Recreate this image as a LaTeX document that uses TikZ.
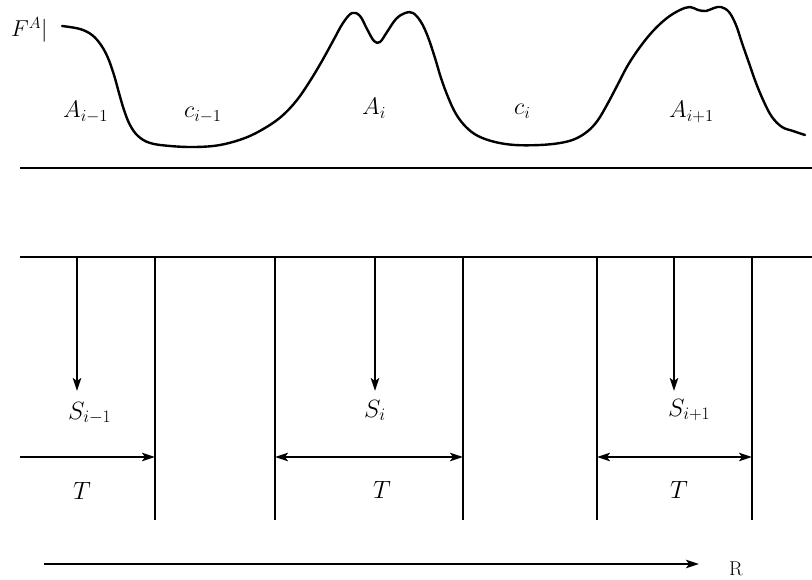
\RequirePackage{fix-cm}
\documentclass[tikz,border=0pt]{standalone}
\usepackage{fontspec}
\usetikzlibrary{arrows.meta}
\begin{document}
\begin{tikzpicture}[x=1pt,y=-1pt,
  ln/.style={line width=2pt},
  tipa/.tip={Stealth[length=13pt,width=8.5pt,inset=3pt]},
  arr/.style={ln,-tipa},
  darr/.style={ln,tipa-tipa},
  toplbl/.style={inner sep=0pt,anchor=base west,font=\fontsize{24}{28}\selectfont},
  botlbl/.style={inner sep=0pt,anchor=base west,font=\fontsize{25}{30}\selectfont},
  tlbl/.style={inner sep=0pt,anchor=base,font=\fontsize{25}{30}\selectfont}]
\useasboundingbox (0,0) rectangle (812,580);
% curve
\draw[line width=2.4pt,line join=round,line cap=round] plot[smooth,tension=0.6] coordinates {
 (62,26) (80,29) (92,35) (101,45) (108,58) (114,75) (119,93) (124,110)
 (130,125) (138,136) (150,143) (170,146) (195,147) (220,145) (245,138)
 (265,128) (282,116) (297,100) (310,81) (322,61) (333,41) (343,23) (352,13)
 (360,16) (367,29) (374,41) (380,42) (387,32) (396,19) (405,13) (413,13)
 (421,22) (428,37) (435,58) (441,78) (448,97) (456,114) (466,127) (478,136)
 (495,142) (515,145) (540,145) (560,143) (575,139) (588,131) (598,120)
 (608,103) (618,84) (628,65) (640,47) (653,31) (667,18) (680,10) (690,7)
 (698,10) (706,11) (714,8) (721,7) (729,12) (736,25) (742,43) (749,63)
 (756,83) (764,102) (772,117) (782,127) (793,131) (805,135)};
\node[inner sep=0pt,anchor=base west,font=\fontsize{23}{27}\selectfont] (fa) at (11,37) {$F^A|$};
\node[toplbl] (a1) at (63,118) {$A_{i-1}$};
\node[toplbl] (c1) at (184,118) {$c_{i-1}$};
\node[toplbl] (a2) at (362,115) {$A_i$};
\node[toplbl] (c2) at (514,115) {$c_i$};
\node[toplbl] (a3) at (669,118) {$A_{i+1}$};
% horizontal lines
\coordinate (h1l) at (20,168); \coordinate (h1r) at (812,168);
\coordinate (h2l) at (20,257); \coordinate (h2r) at (812,257);
\draw[ln] (h1l) -- (h1r);
\draw[ln] (h2l) -- (h2r);
% vertical lines
\foreach \n/\x in {1/155,2/275,3/463,4/597,5/752}{
  \coordinate (v\n t) at (\x,257);
  \coordinate (v\n b) at (\x,520);
  \coordinate (v\n m) at (\x,457);
  \draw[ln] (v\n t) -- (v\n b);
}
% down arrows
\foreach \n/\x in {1/77,2/375,3/674}{
  \coordinate (d\n t) at (\x,257);
  \coordinate (d\n b) at (\x,391);
  \draw[arr] (d\n t) -- (d\n b);
}
\node[botlbl] (s1) at (68,419) {$S_{i-1}$};
\node[botlbl] (s2) at (364,417) {$S_i$};
\node[botlbl] (s3) at (668,416) {$S_{i+1}$};
% T arrows
\coordinate (t0) at (20,457);
\draw[arr] (t0) -- (v1m);
\draw[darr] (v2m) -- (v3m);
\draw[darr] (v4m) -- (v5m);
\node[tlbl] (t1) at (82,499) {$T$};
\node[tlbl] (t2) at (382,498) {$T$};
\node[tlbl] (t3) at (679,498) {$T$};
% R axis
\coordinate (r0) at (44,564);
\coordinate (r1) at (699,564);
\draw[arr] (r0) -- (r1);
\node[inner sep=0pt,anchor=base,font=\fontsize{20}{24}\selectfont] (rl) at (736,575) {R};
\end{tikzpicture}
\end{document}
